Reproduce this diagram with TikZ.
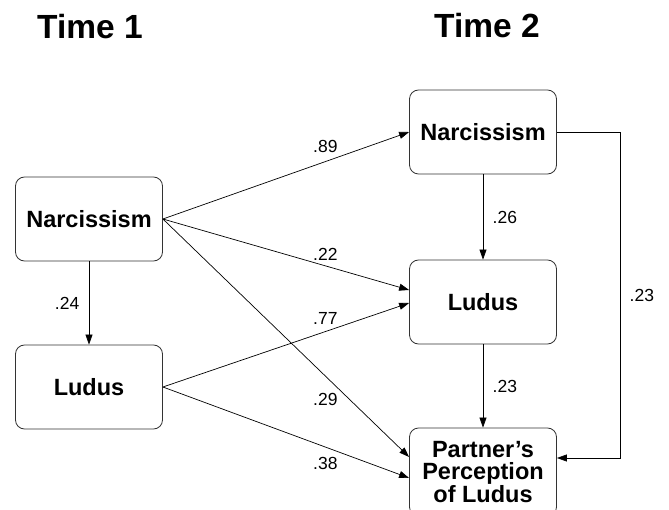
\documentclass[tikz,border=0pt]{standalone}
\usepackage{fontspec}
\setmainfont{Liberation Sans}
\usetikzlibrary{arrows.meta}

\begin{document}
\begin{tikzpicture}[x=1pt, y=-1pt,
		var/.style={draw=black!80, line width=0.8pt, rounded corners=9pt, minimum width=147pt, minimum height=84pt, align=center, font=\fontsize{23.5}{22.5}\selectfont\bfseries},
		path/.style={-{Triangle[length=10pt,width=7pt]}, line width=0.7pt},
		coef/.style={font=\fontsize{17.5}{19}\selectfont}]
		\useasboundingbox (0,0) rectangle (669,510);
		\node[font=\fontsize{33.5}{36}\selectfont\bfseries] (timeA) at (90,27) {Time 1};
		\node[font=\fontsize{33.5}{36}\selectfont\bfseries] (timeB) at (487,26) {Time 2};
		
		\node[var] (narcA) at (89,219) {Narcissism};
		\node[var] (ludA) at (89,387) {Ludus};
		\node[var] (narcB) at (483,132) {Narcissism};
		\node[var] (ludB) at (483,302) {Ludus};
		\node[var, minimum height=88pt] (partB) at (483,472) {Partner's\\Perception\\of Ludus};
		
		\draw[path] (narcA.south) -- (ludA.north) node[coef, midway, left=6pt] {.24};
		\draw[path] (narcB.south) -- (ludB.north) node[coef, midway, right=6pt] {.26};
		\draw[path] (ludB.south) -- (partB.north) node[coef, midway, right=6pt] {.23};
		
		\draw[path] (narcA.east) -- (narcB.west) node[coef, pos=.66, above=5pt] {.89};
		\draw[path] (narcA.east) -- ([yshift=12pt]ludB.west) node[coef, pos=.66, above=2pt] {.22};
		\draw[path] (narcA.east) -- ([yshift=15pt]partB.west) node[coef, pos=.66, below=14pt] {.29};
		\draw[path] (ludA.east) -- ([yshift=-1pt]ludB.west) node[coef, pos=.66, above=3pt] {.77};
		\draw[path] (ludA.east) -- ([yshift=-6pt]partB.west) node[coef, pos=.66, below=7pt] {.38};
		
		\coordinate (bendA) at (620,132);
		\coordinate (bendB) at (620,458);
		\draw[path] (narcB.east) -- (bendA) -- (bendB) node[coef, pos=.5, right=6pt] {.23} -- ([yshift=14pt]partB.east);
		
		\end{tikzpicture}
\end{document}
